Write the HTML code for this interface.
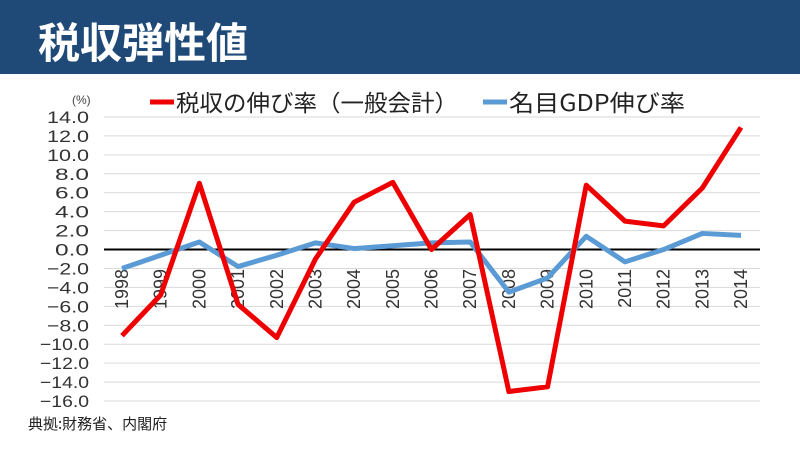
<!DOCTYPE html>
<html><head><meta charset="utf-8"><style>
body{margin:0;width:800px;height:450px;background:#fff;overflow:hidden;font-family:"Liberation Sans","Noto Sans CJK JP",sans-serif}
#hdr{position:absolute;left:0;top:0;width:800px;height:74px;background:#1f4a78}
#hdr span{position:absolute;left:38px;top:10px;color:#fff;font-size:42px;font-weight:bold;font-family:"Noto Sans CJK JP",sans-serif}
</style></head><body>
<div id="hdr"><span>税収弾性値</span></div>
<svg id="chart" width="800" height="450" style="position:absolute;left:0;top:0"></svg>
<script>
const years=["1998","1999","2000","2001","2002","2003","2004","2005","2006","2007","2008","2009","2010","2011","2012","2013","2014"];
const taxGrowth=[-9.1,-4.8,7.0,-5.8,-9.3,-1.0,5.0,7.1,0.0,3.7,-15.0,-14.5,6.8,3.0,2.5,6.5,12.9];
const gdpGrowth=[-2.0,-0.6,0.8,-1.8,-0.6,0.7,0.1,0.4,0.7,0.8,-4.5,-3.0,1.4,-1.3,0.0,1.7,1.5];
const yTicks=[14,12,10,8,6,4,2,0,-2,-4,-6,-8,-10,-12,-14,-16];
const NS="http://www.w3.org/2000/svg";
const svg=document.getElementById('chart');
const X0=104,X1=760,Y14=117,Y16=401;
function y(v){return Y14+(14-v)*(Y16-Y14)/30;}
function x(i){return 122+i*(741-122)/(years.length-1);}
function mk(t,a,p){const e=document.createElementNS(NS,t);for(const k in a)e.setAttribute(k,a[k]);(p||svg).appendChild(e);return e;}
yTicks.forEach(v=>{
  const g=mk('line',{x1:X0,x2:X1,y1:y(v),y2:y(v),stroke:'#d9d9d9','stroke-width':1});
  
  
  const t=mk('text',{x:89,y:y(v)+6,'text-anchor':'end','font-size':17,fill:'#333',textLength:v<=-10?49:(v<0||v>=10?42:34),lengthAdjust:'spacingAndGlyphs'});
  t.textContent=(v<0?'−':'')+Math.abs(v).toFixed(1);
  
  
});
const z=mk('line',{x1:X0,x2:X1,y1:y(0),y2:y(0),stroke:'#000','stroke-width':2});


years.forEach((yr,i)=>{
  const t=mk('text',{x:0,y:0,'font-size':18,fill:'#333','text-anchor':'end',transform:`translate(${x(i)+6},269) rotate(-90)`});
  t.textContent=yr;
  
  
});
function line(arr,col,name){
  const p=mk('polyline',{points:arr.map((v,i)=>x(i)+','+y(v)).join(' '),fill:'none',stroke:col,'stroke-width':5,'stroke-linejoin':'round'});
  
  
}
line(gdpGrowth,'#5b9bd5','gdp-growth-line');
line(taxGrowth,'#ee0000','tax-growth-line');
const u=mk('text',{x:72,y:104,'font-size':12,fill:'#444'});u.textContent='(%)';


const l1=mk('line',{x1:150,x2:174,y1:102,y2:102,stroke:'#ee0000','stroke-width':5});


const t1=mk('text',{x:176,y:111,'font-size':23,fill:'#222','font-family':'Noto Sans CJK JP, sans-serif',textLength:282,lengthAdjust:'spacingAndGlyphs'});t1.textContent='税収の伸び率（一般会計）';


const l2=mk('line',{x1:483,x2:507,y1:102,y2:102,stroke:'#5b9bd5','stroke-width':5});


const t2=mk('text',{x:509,y:111,'font-size':23,fill:'#222','font-family':'Noto Sans CJK JP, sans-serif',textLength:176,lengthAdjust:'spacingAndGlyphs'});t2.textContent='名目GDP伸び率';


const s=mk('text',{x:28,y:429,'font-size':15,fill:'#222','font-family':'Noto Sans CJK JP, sans-serif'});s.textContent='典拠:財務省、内閣府';


</script>
</body></html>
